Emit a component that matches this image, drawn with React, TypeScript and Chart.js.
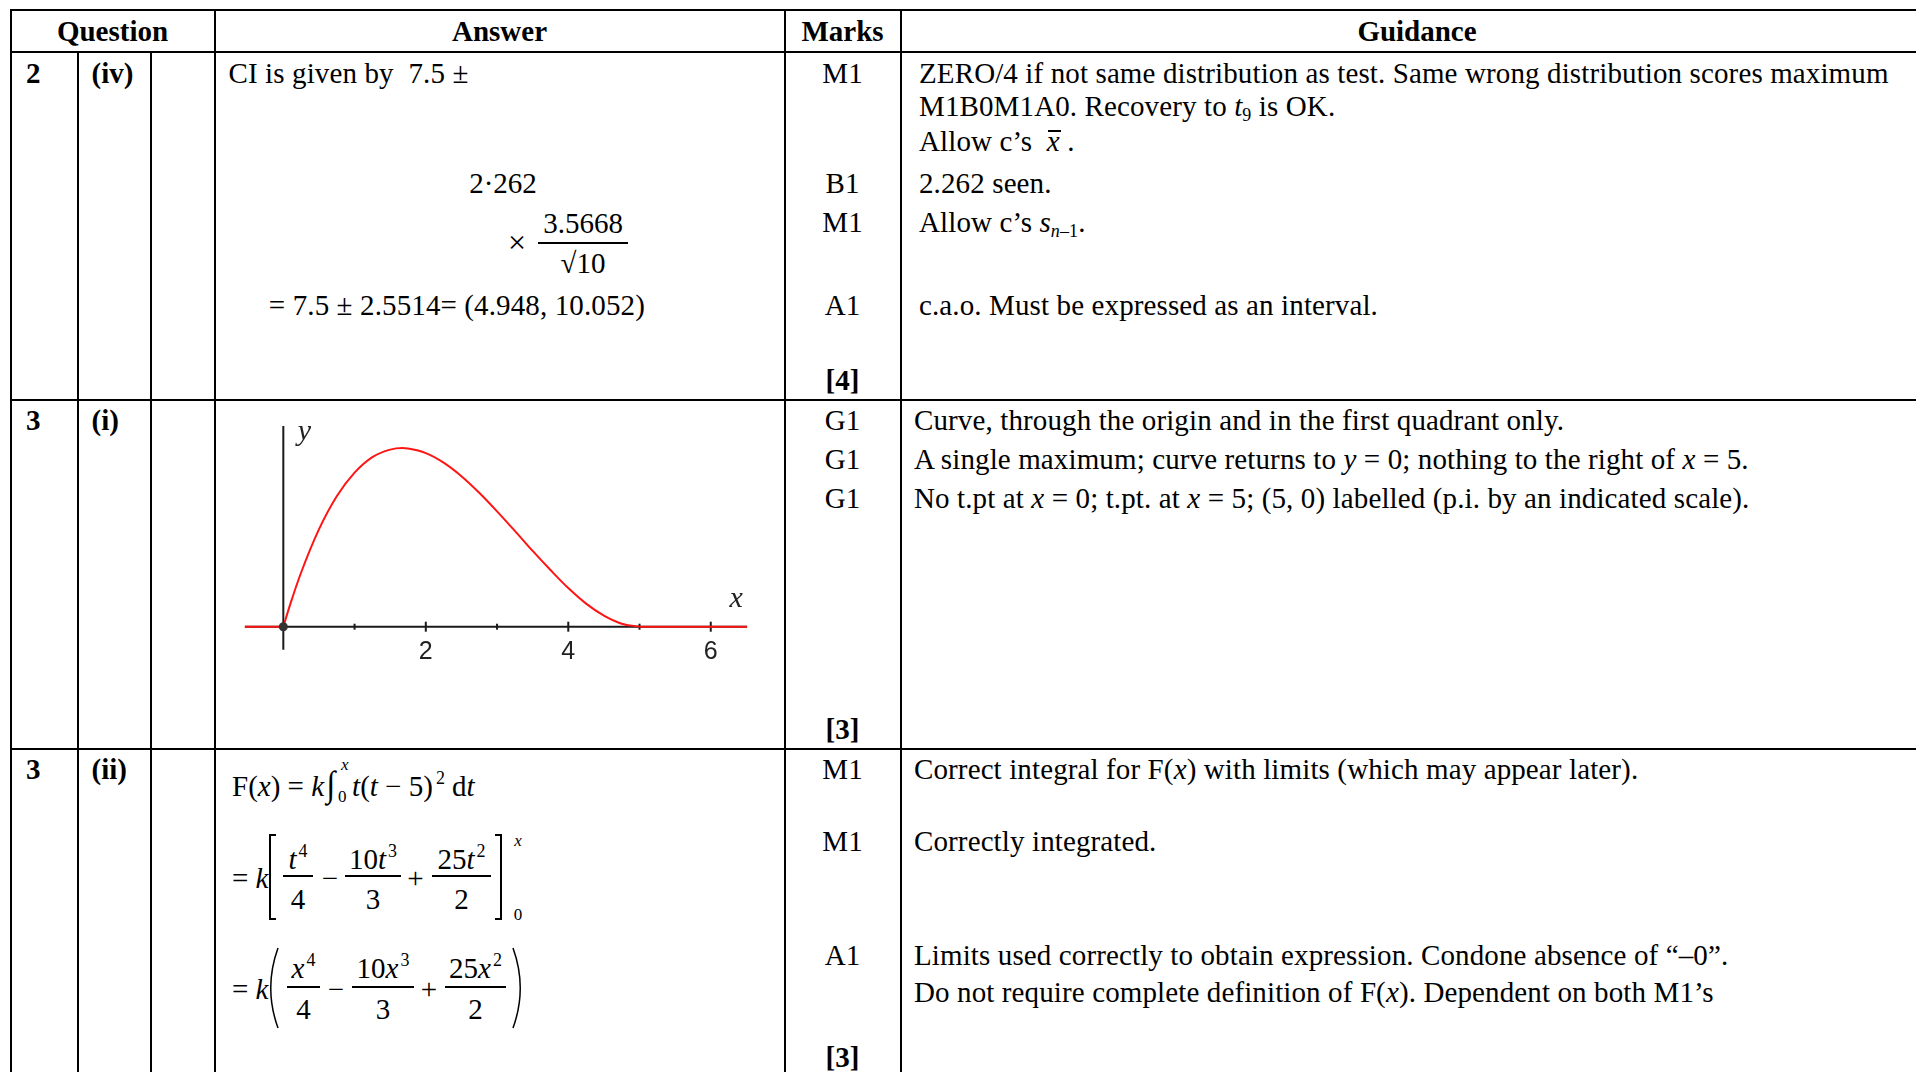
import React, { useEffect, useRef } from "react";
import { Chart, registerables } from "chart.js";

Chart.register(...registerables);

// ---- chart data ----
const CURVE_X = [0, 0.1, 0.25, 0.5, 0.75, 1, 1.25, 1.5, 1.67, 1.75, 2, 2.25, 2.5, 2.75, 3, 3.25, 3.5, 3.75, 4, 4.25, 4.5, 4.75, 5];
const CURVE_Y = [0, 0.046, 0.108, 0.194, 0.26, 0.307, 0.338, 0.353, 0.356, 0.355, 0.346, 0.327, 0.3, 0.267, 0.23, 0.191, 0.151, 0.113, 0.077, 0.046, 0.022, 0.006, 0];
const FLAT_LEFT_X = [-0.54, 0];
const FLAT_RIGHT_X = [5, 6.51];
const FLAT_Y = [0, 0];
const X_TICKS = [1, 2, 3, 4, 5, 6];
const X_TICK_LABELS = ["", "2", "", "4", "", "6"];
const X_AXIS_RANGE = [-0.54, 6.51];
const Y_AXIS_RANGE = [-0.046, 0.4];
const AXIS_NAMES = ["x", "y"];

// view window of the scales
const X_MIN = -0.945;
const X_MAX = 7.0;
const Y_MIN = -0.2398;
const Y_MAX = 0.4479;

const FS = 29;
const SERIF = '"Liberation Serif", "Times New Roman", serif';

type TP = {
  x: number;
  y: number;
  children?: React.ReactNode;
  size?: number;
  bold?: boolean;
  italic?: boolean;
  align?: "left" | "center" | "right";
  style?: React.CSSProperties;
};

function T({ x, y, children, size = FS, bold, italic, align = "left", style }: TP) {
  const transform = align === "center" ? "translateX(-50%)" : align === "right" ? "translateX(-100%)" : undefined;
  return (
    <div
      style={{
        position: "absolute",
        left: x,
        top: y - size / 2,
        fontSize: size,
        lineHeight: `${size}px`,
        whiteSpace: "nowrap",
        fontWeight: bold ? "bold" : "normal",
        fontStyle: italic ? "italic" : "normal",
        transform,
        ...style,
      }}
    >
      {children}
    </div>
  );
}

const I = ({ children }: { children: React.ReactNode }) => <span style={{ fontStyle: "italic" }}>{children}</span>;
const Sub = ({ children }: { children: React.ReactNode }) => (
  <span style={{ fontSize: "0.62em", verticalAlign: "-0.28em", lineHeight: 0 }}>{children}</span>
);
const Sup = ({ children, gap = 2 }: { children: React.ReactNode; gap?: number }) => (
  <span style={{ fontSize: "0.62em", verticalAlign: "0.62em", lineHeight: 0, marginLeft: gap }}>{children}</span>
);

function HLine({ x1, x2, y, w = 2 }: { x1: number; x2: number; y: number; w?: number }) {
  return <div style={{ position: "absolute", left: x1, top: y - w / 2, width: x2 - x1, height: w, background: "#000" }} />;
}
function VLine({ x, y1, y2, w = 2 }: { x: number; y1: number; y2: number; w?: number }) {
  return <div style={{ position: "absolute", left: x - w / 2, top: y1, width: w, height: y2 - y1, background: "#000" }} />;
}

function Frac({ x1, x2, barY, numY, denY, num, den }: { x1: number; x2: number; barY: number; numY: number; denY: number; num: React.ReactNode; den: React.ReactNode }) {
  const cx = (x1 + x2) / 2;
  return (
    <>
      <HLine x1={x1} x2={x2} y={barY} w={1.4} />
      <T x={cx} y={numY} align="center">{num}</T>
      <T x={cx} y={denY} align="center">{den}</T>
    </>
  );
}

function Bracket({ x, y1, y2, dir }: { x: number; y1: number; y2: number; dir: 1 | -1 }) {
  const serif = 6;
  return (
    <>
      <VLine x={x} y1={y1} y2={y2} w={1.6} />
      <div style={{ position: "absolute", left: dir === 1 ? x - 0.8 : x - serif, top: y1 - 0.8, width: serif + 0.8, height: 1.6, background: "#000" }} />
      <div style={{ position: "absolute", left: dir === 1 ? x - 0.8 : x - serif, top: y2 - 0.8, width: serif + 0.8, height: 1.6, background: "#000" }} />
    </>
  );
}

function Paren({ x1, x2, y1, y2, dir }: { x1: number; x2: number; y1: number; y2: number; dir: 1 | -1 }) {
  const w = x2 - x1;
  const h = y2 - y1;
  const d =
    dir === 1
      ? `M ${w - 1} 1 Q ${-w * 0.55} ${h / 2} ${w - 1} ${h - 1}`
      : `M 1 1 Q ${w * 1.55} ${h / 2} 1 ${h - 1}`;
  return (
    <svg style={{ position: "absolute", left: x1, top: y1, overflow: "visible" }} width={w} height={h}>
      <path d={d} stroke="#000" strokeWidth={1.5} fill="none" />
    </svg>
  );
}

function CurveChart() {
  const ref = useRef<HTMLCanvasElement>(null);
  useEffect(() => {
    if (!ref.current) return;
    const axesPlugin = {
      id: "mathAxes",
      beforeDatasetsDraw(chart: any) {
        const { ctx, scales } = chart;
        const xs = scales.x;
        const ys = scales.y;
        const x0 = xs.getPixelForValue(0);
        const y0 = ys.getPixelForValue(0);
        ctx.save();
        ctx.strokeStyle = "#1a1a1a";
        ctx.lineWidth = 2;
        ctx.beginPath();
        ctx.moveTo(xs.getPixelForValue(X_AXIS_RANGE[0]), y0);
        ctx.lineTo(xs.getPixelForValue(X_AXIS_RANGE[1]), y0);
        ctx.moveTo(x0, ys.getPixelForValue(Y_AXIS_RANGE[0]));
        ctx.lineTo(x0, ys.getPixelForValue(Y_AXIS_RANGE[1]));
        ctx.stroke();
        X_TICKS.forEach((t, i) => {
          const px = xs.getPixelForValue(t);
          const len = X_TICK_LABELS[i] ? 5 : 3;
          ctx.beginPath();
          ctx.moveTo(px, y0 - len);
          ctx.lineTo(px, y0 + len);
          ctx.stroke();
        });
        ctx.restore();
      },
      afterDatasetsDraw(chart: any) {
        const { ctx, scales } = chart;
        const xs = scales.x;
        const ys = scales.y;
        const x0 = xs.getPixelForValue(0);
        const y0 = ys.getPixelForValue(0);
        ctx.save();
        ctx.fillStyle = "#333";
        ctx.beginPath();
        ctx.arc(x0, y0, 4.5, 0, Math.PI * 2);
        ctx.fill();
        ctx.fillStyle = "#222";
        ctx.font = '25px "Liberation Sans", sans-serif';
        ctx.textAlign = "center";
        ctx.textBaseline = "middle";
        X_TICKS.forEach((t, i) => {
          if (X_TICK_LABELS[i]) ctx.fillText(X_TICK_LABELS[i], xs.getPixelForValue(t), y0 + 25);
        });
        ctx.font = 'italic 30px "Liberation Serif", serif';
        ctx.fillText(AXIS_NAMES[0], xs.getPixelForValue(X_AXIS_RANGE[1]) - 11, y0 - 28);
        ctx.fillText(AXIS_NAMES[1], x0 + 21, ys.getPixelForValue(Y_AXIS_RANGE[1]) + 6);
        ctx.restore();
      },
    };
    const red = "rgb(255, 20, 20)";
    const chart = new Chart(ref.current, {
      type: "line",
      data: {
        datasets: [
          {
            data: CURVE_X.map((x, i) => ({ x, y: CURVE_Y[i] })),
            borderColor: red,
            borderWidth: 2,
            pointRadius: 0,
            cubicInterpolationMode: "monotone",
            fill: false,
          },
          {
            data: FLAT_LEFT_X.map((x, i) => ({ x, y: FLAT_Y[i] })),
            borderColor: red,
            borderWidth: 2,
            pointRadius: 0,
            tension: 0,
            fill: false,
          },
          {
            data: FLAT_RIGHT_X.map((x, i) => ({ x, y: FLAT_Y[i] })),
            borderColor: red,
            borderWidth: 2,
            pointRadius: 0,
            tension: 0,
            fill: false,
          },
        ],
      },
      options: {
        animation: false,
        responsive: false,
        devicePixelRatio: 1,
        events: [],
        layout: { padding: 0 },
        plugins: { legend: { display: false }, tooltip: { enabled: false } },
        scales: {
          x: { type: "linear", min: X_MIN, max: X_MAX, display: false },
          y: { type: "linear", min: Y_MIN, max: Y_MAX, display: false },
        },
      } as any,
      plugins: [axesPlugin],
    });
    return () => chart.destroy();
  }, []);
  return (
    <canvas
      ref={ref}
      width={566}
      height={345}
      style={{ position: "absolute", left: 216, top: 402, width: 566, height: 345 }}
    />
  );
}

export default function App() {
  useEffect(() => {
    document.body.style.overflow = "hidden";
  }, []);
  const W = 1916;
  const H = 1072;
  const rowsY = [10, 51.5, 400, 749];
  const colsX = [11, 77.5, 150.5, 214.5, 784.5, 900.5];
  const marksX = 842.5;
  const gx1 = 919;
  const gx2 = 914;
  const gs: React.CSSProperties = { letterSpacing: "0.12px" };
  return (
    <div
      style={{
        position: "absolute",
        left: 0,
        top: 0,
        width: W,
        height: H,
        overflow: "hidden",
        background: "#fff",
        color: "#000",
        fontFamily: SERIF,
      }}
    >
      {/* grid */}
      {rowsY.map((y, i) => (
        <HLine key={"h" + i} x1={10} x2={W} y={y} w={2} />
      ))}
      {colsX.map((x, i) => (
        <VLine key={"v" + i} x={x} y1={i === 1 || i === 2 ? 51.5 : 9} y2={H} w={2} />
      ))}

      {/* header */}
      <T x={112.5} y={31.5} bold align="center">Question</T>
      <T x={499.5} y={31.5} bold align="center">Answer</T>
      <T x={marksX} y={31.5} bold align="center">Marks</T>
      <T x={1417} y={31.5} bold align="center">Guidance</T>

      {/* row 1 */}
      <T x={26} y={73.3} bold>2</T>
      <T x={91.5} y={73.3} bold>(iv)</T>
      <T x={228.5} y={73.3} style={gs}>CI is given by&nbsp; 7.5 ±</T>
      <T x={517} y={242} size={32} align="center">×</T>
      <T x={503} y={183.3} align="center">2·262</T>
      <Frac x1={538} x2={628} barY={243} numY={223.6} denY={263} num="3.5668" den="√10" />
      <T x={268.8} y={305.5} style={gs}>= 7.5 ± 2.5514= (4.948, 10.052)</T>

      <T x={marksX} y={73.3} align="center">M1</T>
      <T x={marksX} y={183.3} align="center">B1</T>
      <T x={marksX} y={222.4} align="center">M1</T>
      <T x={marksX} y={305.5} align="center">A1</T>
      <T x={marksX} y={380} bold align="center">[4]</T>

      <T x={gx1} y={73.3} style={gs}>ZERO/4 if not same distribution as test. Same wrong distribution scores maximum</T>
      <T x={gx1} y={106.3} style={gs}>
        M1B0M1A0. Recovery to <I>t</I>
        <Sub>9</Sub> is OK.
      </T>
      <T x={gx1} y={141.7} style={gs}>
        Allow c’s&nbsp;{" "}
        <span style={{ position: "relative", fontStyle: "italic" }}>
          x
          <span style={{ position: "absolute", left: 1, right: -1, top: 5, height: 1.5, background: "#000" }} />
        </span>{" "}
        .
      </T>
      <T x={gx1} y={183.3} style={gs}>2.262 seen.</T>
      <T x={gx1} y={222.4} style={gs}>
        Allow c’s <I>s</I>
        <Sub>
          <I>n</I>–1
        </Sub>
        .
      </T>
      <T x={gx1} y={305.5} style={gs}>c.a.o. Must be expressed as an interval.</T>

      {/* row 2 */}
      <T x={26} y={420.3} bold>3</T>
      <T x={91.5} y={420.3} bold>(i)</T>
      <CurveChart />
      <T x={marksX} y={420.3} align="center">G1</T>
      <T x={marksX} y={459.4} align="center">G1</T>
      <T x={marksX} y={498.5} align="center">G1</T>
      <T x={marksX} y={729.5} bold align="center">[3]</T>
      <T x={gx2} y={420.3} style={gs}>Curve, through the origin and in the first quadrant only.</T>
      <T x={gx2} y={459.4} style={gs}>
        A single maximum; curve returns to <I>y</I> = 0; nothing to the right of <I>x</I> = 5.
      </T>
      <T x={gx2} y={498.5} style={gs}>
        No t.pt at <I>x</I> = 0; t.pt. at <I>x</I> = 5; (5, 0) labelled (p.i. by an indicated scale).
      </T>

      {/* row 3 */}
      <T x={26} y={769.8} bold>3</T>
      <T x={91.5} y={769.8} bold>(ii)</T>
      <T x={232} y={784}>
        F(<I>x</I>)&nbsp;=&nbsp;<I>k</I>
        <span style={{ position: "relative", display: "inline-block", width: 26, marginLeft: 2 }}>
          <span style={{ display: "inline-block", fontSize: 36, lineHeight: "29px", transform: "scaleX(0.9)" }}>∫</span>
          <span style={{ position: "absolute", left: 15, top: -14, fontSize: 17, fontStyle: "italic", lineHeight: "17px" }}>x</span>
          <span style={{ position: "absolute", left: 12, top: 18, fontSize: 17, lineHeight: "17px" }}>0</span>
        </span>
        <I>t</I>(<I>t</I> − 5)
        <Sup gap={3}>2</Sup>&nbsp;d<I>t</I>
      </T>

      <T x={232} y={878}>
        = <I>k</I>
      </T>
      <Bracket x={270} y1={835} y2={919} dir={1} />
      <Frac x1={283} x2={313} barY={876} numY={859} denY={899} num={<><I>t</I><Sup>4</Sup></>} den="4" />
      <T x={330} y={878} align="center">−</T>
      <Frac x1={345} x2={401} barY={876} numY={859} denY={899} num={<>10<I>t</I><Sup>3</Sup></>} den="3" />
      <T x={415.5} y={878} align="center">+</T>
      <Frac x1={432} x2={491} barY={876} numY={859} denY={899} num={<>25<I>t</I><Sup>2</Sup></>} den="2" />
      <Bracket x={501} y1={835} y2={919} dir={-1} />
      <T x={518} y={840} size={17} italic align="center">x</T>
      <T x={518} y={914} size={17} align="center">0</T>

      <T x={232} y={989}>
        = <I>k</I>
      </T>
      <Paren x1={269} x2={279} y1={947} y2={1029} dir={1} />
      <Frac x1={287} x2={320} barY={987} numY={968} denY={1009} num={<><I>x</I><Sup>4</Sup></>} den="4" />
      <T x={336} y={989} align="center">−</T>
      <Frac x1={352} x2={414} barY={987} numY={968} denY={1009} num={<>10<I>x</I><Sup>3</Sup></>} den="3" />
      <T x={429} y={989} align="center">+</T>
      <Frac x1={445} x2={506} barY={987} numY={968} denY={1009} num={<>25<I>x</I><Sup>2</Sup></>} den="2" />
      <Paren x1={512} x2={522} y1={947} y2={1029} dir={-1} />

      <T x={marksX} y={769.8} align="center">M1</T>
      <T x={marksX} y={841.9} align="center">M1</T>
      <T x={marksX} y={955.5} align="center">A1</T>
      <T x={marksX} y={1057} bold align="center">[3]</T>
      <T x={gx2} y={769.8} style={gs}>
        Correct integral for F(<I>x</I>) with limits (which may appear later).
      </T>
      <T x={gx2} y={841.9} style={gs}>Correctly integrated.</T>
      <T x={gx2} y={955.5} style={gs}>Limits used correctly to obtain expression. Condone absence of “–0”.</T>
      <T x={gx2} y={992.2} style={gs}>
        Do not require complete definition of F(<I>x</I>). Dependent on both M1’s
      </T>
    </div>
  );
}
